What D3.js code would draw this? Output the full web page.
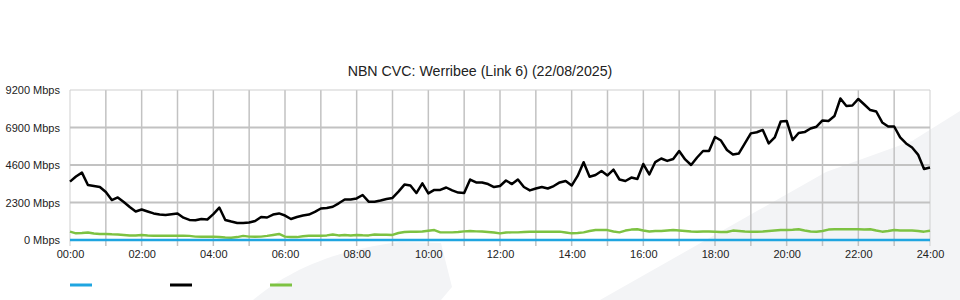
<!DOCTYPE html>
<html>
<head>
<meta charset="utf-8">
<script src="https://cdn.jsdelivr.net/npm/d3@7"></script>
<style>
    body { margin: 0; background: #fff; }
    svg { display: block; font-family: "Liberation Sans", Arial, sans-serif; }
</style>
</head>
<body>
<svg class="chart"></svg>
<script>
// chart data (Mbps, one sample every 10 minutes from 00:00 to 24:00)
var title = 'NBN CVC: Werribee (Link 6) (22/08/2025)';
var yTicks = [0, 2300, 4600, 6900, 9200];
var xTickLabels = ['00:00', '02:00', '04:00', '06:00', '08:00', '10:00', '12:00',
                   '14:00', '16:00', '18:00', '20:00', '22:00', '24:00'];
var seriesColors = ['#1fa5e0', '#000000', '#7dc242'];

var blueSeries = [
    0, 0, 0, 0, 0, 0, 0, 0, 0, 0, 0, 0,
    0, 0, 0, 0, 0, 0, 0, 0, 0, 0, 0, 0,
    0, 0, 0, 0, 0, 0, 0, 0, 0, 0, 0, 0,
    0, 0, 0, 0, 0, 0, 0, 0, 0, 0, 0, 0,
    0, 0, 0, 0, 0, 0, 0, 0, 0, 0, 0, 0,
    0, 0, 0, 0, 0, 0, 0, 0, 0, 0, 0, 0,
    0, 0, 0, 0, 0, 0, 0, 0, 0, 0, 0, 0,
    0, 0, 0, 0, 0, 0, 0, 0, 0, 0, 0, 0,
    0, 0, 0, 0, 0, 0, 0, 0, 0, 0, 0, 0,
    0, 0, 0, 0, 0, 0, 0, 0, 0, 0, 0, 0,
    0, 0, 0, 0, 0, 0, 0, 0, 0, 0, 0, 0,
    0, 0, 0, 0, 0, 0, 0, 0, 0, 0, 0, 0,
    0
];

var blackSeries = [
    3580, 3890, 4130, 3370, 3310, 3250, 2940, 2450, 2610, 2330, 2020, 1750,
    1870, 1750, 1630, 1560, 1530, 1580, 1630, 1370, 1230, 1210, 1290, 1260,
    1590, 1990, 1230, 1130, 1040, 1040, 1070, 1170, 1410, 1380, 1560, 1630,
    1500, 1290, 1410, 1500, 1560, 1720, 1930, 1960, 2040, 2250, 2480, 2480,
    2550, 2760, 2350, 2350, 2420, 2510, 2580, 2970, 3400, 3340, 2880, 3470,
    2860, 3070, 3070, 3220, 3040, 2910, 2880, 3710, 3530, 3530, 3430, 3250,
    3310, 3650, 3430, 3710, 3250, 3040, 3160, 3250, 3160, 3310, 3530, 3620,
    3340, 3930, 4770, 3880, 3990, 4230, 3960, 4320, 3710, 3620, 3830, 3740,
    4660, 4020, 4780, 5000, 4850, 4970, 5460, 4940, 4600, 5060, 5460, 5460,
    6320, 6100, 5520, 5240, 5310, 5920, 6540, 6610, 6750, 5920, 6290, 7270,
    7300, 6130, 6560, 6620, 6840, 6950, 7330, 7300, 7600, 8680, 8220, 8250,
    8650, 8310, 7970, 7880, 7210, 6960, 6960, 6290, 5920, 5670, 5240, 4350,
    4450
];

var greenSeries = [
    510, 410, 430, 460, 400, 370, 370, 350, 340, 310, 280, 280,
    310, 280, 260, 260, 260, 260, 260, 260, 250, 210, 200, 200,
    210, 180, 150, 140, 180, 250, 210, 200, 210, 250, 310, 370,
    210, 180, 180, 230, 260, 260, 260, 280, 340, 280, 310, 280,
    310, 290, 280, 340, 320, 320, 310, 430, 490, 510, 510, 520,
    570, 610, 470, 470, 470, 490, 530, 550, 530, 520, 490, 460,
    410, 460, 470, 470, 490, 510, 510, 510, 510, 510, 510, 460,
    410, 430, 470, 550, 610, 610, 610, 520, 470, 580, 640, 660,
    580, 520, 550, 550, 580, 610, 580, 550, 520, 510, 520, 520,
    510, 490, 490, 580, 550, 520, 510, 510, 520, 550, 580, 610,
    610, 630, 660, 580, 520, 510, 550, 640, 660, 660, 660, 660,
    660, 640, 660, 580, 510, 550, 610, 580, 580, 580, 550, 510,
    570
];

var width = 960, height = 300;
var margin = { top: 90, right: 30, bottom: 60, left: 70 };

var svg = d3.select('.chart')
    .attr('width', width)
    .attr('height', height);

// faint background watermark
var wm = svg.append('g').attr('fill', '#f3f4f6');
wm.append('path').attr('d', 'M253,300 C280,278 320,252 400,242 L441,243 L452,287 L441,300 Z');
wm.append('path').attr('d', 'M600,300 L826,172 L912,141 L960,111 L960,300 Z');

var x = d3.scaleLinear().domain([0, 24]).range([margin.left, width - margin.right]);
var y = d3.scaleLinear().domain([0, 9200]).range([height - margin.bottom, margin.top]);

// title
svg.append('text')
    .attr('x', 480)
    .attr('y', 76)
    .attr('text-anchor', 'middle')
    .attr('font-size', 14.2)
    .attr('fill', '#222')
    .text(title);

// grid: vertical line every hour with a small tick below
var grid = svg.append('g');
grid.selectAll('line.v').data(d3.range(0, 25))
    .enter().append('line')
    .attr('class', 'v')
    .attr('x1', function (d) { return x(d); })
    .attr('x2', function (d) { return x(d); })
    .attr('y1', y(9200))
    .attr('y2', y(0) + 6)
    .attr('stroke', function (d) { return (d === 0 || d === 24) ? '#cfcfcf' : '#c2c2c2'; })
    .attr('stroke-width', function (d) { return (d === 0 || d === 24) ? 1 : 1.5; });

grid.selectAll('line.h').data(yTicks)
    .enter().append('line')
    .attr('class', 'h')
    .attr('x1', x(0))
    .attr('x2', x(24))
    .attr('y1', function (d) { return y(d); })
    .attr('y2', function (d) { return y(d); })
    .attr('stroke', function (d) { return (d === 9200) ? '#cfcfcf' : '#c2c2c2'; })
    .attr('stroke-width', function (d) { return (d === 9200) ? 1 : 1.8; });

// axis labels
var yAxis = d3.axisLeft(y).tickValues(yTicks).tickSize(0).tickPadding(10)
    .tickFormat(function (d) { return d + ' Mbps'; });
var yg = svg.append('g')
    .attr('transform', 'translate(' + margin.left + ',0)')
    .call(yAxis);

var xAxis = d3.axisBottom(x).tickValues(d3.range(0, 25, 2)).tickSize(0).tickPadding(10)
    .tickFormat(function (d, i) { return xTickLabels[i]; });
var xg = svg.append('g')
    .attr('transform', 'translate(0,' + y(0) + ')')
    .call(xAxis);

[yg, xg].forEach(function (g) {
    g.select('.domain').remove();
    g.selectAll('text')
        .attr('font-family', '"Liberation Sans", Arial, sans-serif')
        .attr('font-size', 11)
        .attr('fill', '#222');
});

// series lines
var line = d3.line()
    .x(function (d, i) { return x(i / 6); })
    .y(function (d) { return y(d); });

var series = [
    { values: greenSeries, color: seriesColors[2], w: 2.4 },
    { values: blackSeries, color: seriesColors[1], w: 2.5 },
    { values: blueSeries, color: seriesColors[0], w: 2.5 }
];

series.forEach(function (s) {
    svg.append('path')
        .datum(s.values)
        .attr('fill', 'none')
        .attr('stroke', s.color)
        .attr('stroke-width', s.w)
        .attr('stroke-linejoin', 'round')
        .attr('d', line);
});

// legend swatches (no labels in the original)
var legend = svg.append('g').attr('transform', 'translate(0,285)');
legend.selectAll('line').data(seriesColors)
    .enter().append('line')
    .attr('x1', function (d, i) { return 70 + i * 100; })
    .attr('x2', function (d, i) { return 92 + i * 100; })
    .attr('y1', 0)
    .attr('y2', 0)
    .attr('stroke', function (d) { return d; })
    .attr('stroke-width', 3);
</script>
</body>
</html>
